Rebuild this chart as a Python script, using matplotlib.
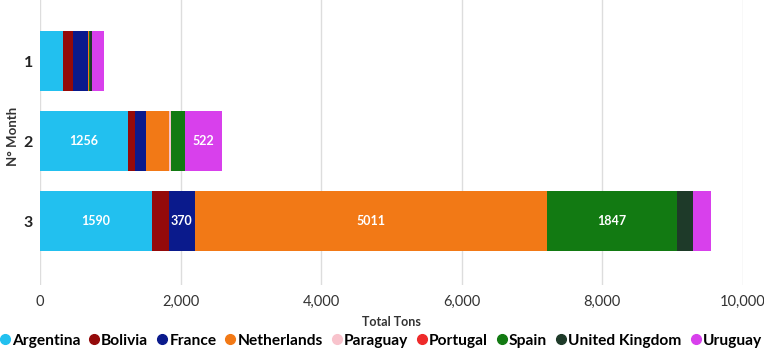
import matplotlib
matplotlib.use('Agg')
import matplotlib.pyplot as plt
from matplotlib.lines import Line2D

plt.rcParams['font.family'] = ['Lato', 'DejaVu Sans']

months = ['1', '2', '3']
countries = ['Argentina', 'Bolivia', 'France', 'Netherlands', 'Paraguay',
             'Portugal', 'Spain', 'United Kingdom', 'Uruguay']
colors = ['#22C0EF', '#940A0A', '#0A1A8C', '#F27916', '#F8C3CC',
          '#EE2A2A', '#127A12', '#1E3A29', '#D840EC']

# tons per country, one value per month
argentina = [332, 1256, 1590]
bolivia = [142, 94, 245]
france = [205, 152, 370]
netherlands = [23, 332, 5011]
paraguay = [0, 25, 0]
portugal = [0, 0, 0]
spain = [10, 209, 1847]
united_kingdom = [30, 0, 236]
uruguay = [171, 522, 250]

series = [argentina, bolivia, france, netherlands, paraguay,
          portugal, spain, united_kingdom, uruguay]

fig = plt.figure(figsize=(7.64, 3.53), dpi=100)
ax = fig.add_axes([40 / 764, 1 - 285 / 353, 702.5 / 764, 285 / 353])

ypos = list(range(len(months)))
left = [0] * len(months)
for name, vals, col in zip(countries, series, colors):
    bars = ax.barh(ypos, vals, left=left, height=0.75, color=col, label=name,
                   zorder=3)
    for b, v in zip(bars, vals):
        if v >= 350:
            ax.text(b.get_x() + b.get_width() / 2, b.get_y() + b.get_height() / 2,
                    str(v), ha='center', va='center', color='white',
                    fontsize=9, fontweight='bold', zorder=4)
    left = [l + v for l, v in zip(left, vals)]

ax.set_xlim(0, 10000)
ax.set_ylim(2.8, -0.7625)
ax.set_yticks(ypos)
ax.set_yticklabels(months, fontsize=11.5, fontweight='bold', color='#222222')
ax.set_xticks(range(0, 10001, 2000))
ax.set_xticklabels(['{:,}'.format(x) for x in range(0, 10001, 2000)],
                   fontsize=10.5, color='#333333')
ax.tick_params(axis='x', length=0, pad=7)
ax.tick_params(axis='y', length=0, pad=5)
ax.grid(axis='x', color='#dddddd', linewidth=1, zorder=0)
for s in ax.spines.values():
    s.set_visible(False)

ax.set_xlabel('Total Tons', fontsize=9, fontweight='bold', color='#333333',
              labelpad=5)
ax.set_ylabel('N° Month', fontsize=9.5, fontweight='bold', color='#333333')
ax.yaxis.set_label_coords(-21 / 702.5, 0.52)

handles = [Line2D([], [], marker='o', linestyle='', markersize=7,
                  markerfacecolor=c, markeredgecolor=c) for c in colors]
fig.legend(handles, countries, loc='lower center', bbox_to_anchor=(0.497, -0.025),
           ncol=9, frameon=False, handletextpad=0.0, columnspacing=0.45,
           handlelength=0.9, prop={'weight': 'bold', 'size': 11.2})

fig.savefig('out.png', dpi=100)
